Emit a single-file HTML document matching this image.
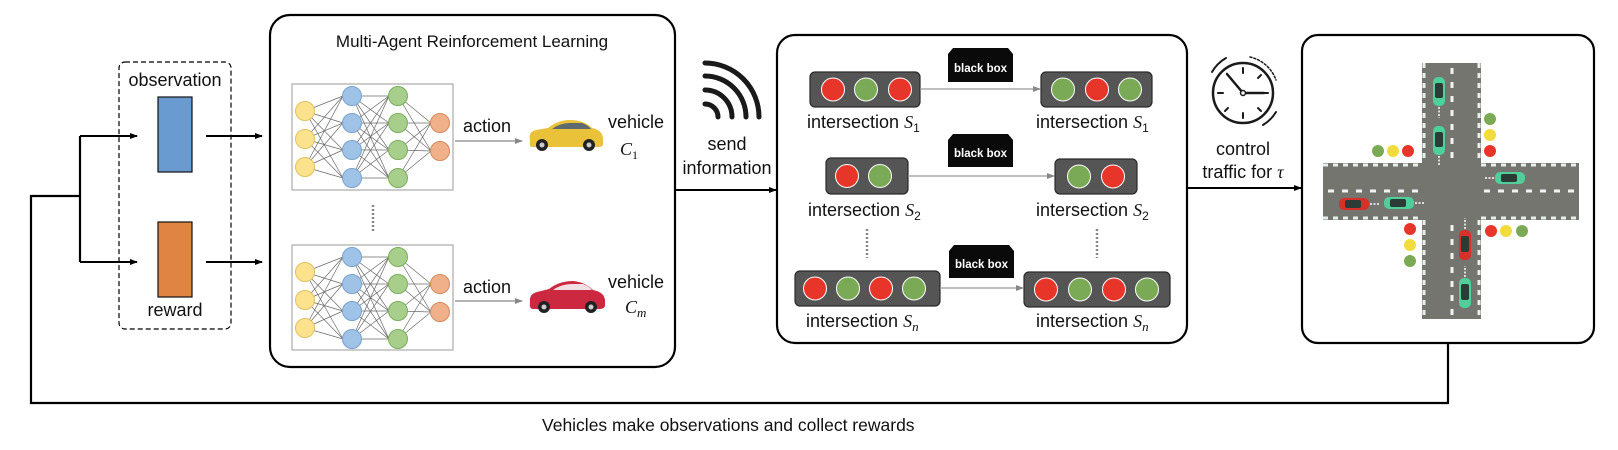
<!DOCTYPE html>
<html><head><meta charset="utf-8">
<style>
html,body{margin:0;padding:0;background:#fff;}
svg{display:block;}
text{font-family:"Liberation Sans",Arial,sans-serif;fill:#111;}
.m{font-family:"Liberation Serif",serif;font-style:italic;}
</style></head>
<body>
<svg id="s" width="1618" height="450" viewBox="0 0 1618 450" xmlns="http://www.w3.org/2000/svg">
<defs>
<marker id="ab" markerWidth="8" markerHeight="8" refX="7" refY="4" orient="auto" markerUnits="userSpaceOnUse"><path d="M0,1 L8,4 L0,7 Z" fill="#000"/></marker>
<marker id="ag" markerWidth="8" markerHeight="8" refX="7" refY="4" orient="auto" markerUnits="userSpaceOnUse"><path d="M0,1 L8,4 L0,7 Z" fill="#888"/></marker>
</defs>

<!-- feedback loop -->
<polyline points="1448,343 1448,403 31,403 31,196 80,196" fill="none" stroke="#000" stroke-width="2.2"/>
<line x1="80" y1="136" x2="80" y2="262" stroke="#000" stroke-width="2.2"/>
<line x1="80" y1="136" x2="137" y2="136" stroke="#000" stroke-width="2" marker-end="url(#ab)"/>
<line x1="80" y1="262" x2="137" y2="262" stroke="#000" stroke-width="2" marker-end="url(#ab)"/>
<text x="542" y="431" font-size="17.5">Vehicles make observations and collect rewards</text>

<!-- dashed box -->
<rect x="119" y="62" width="112" height="267" rx="6" fill="none" stroke="#000" stroke-width="1.2" stroke-dasharray="5,3"/>
<text x="175" y="86" font-size="18" text-anchor="middle">observation</text>
<rect x="158" y="97" width="34" height="75" fill="#6a9bd0" stroke="#111" stroke-width="1.2"/>
<rect x="158" y="222" width="34" height="75" fill="#e08444" stroke="#111" stroke-width="1.2"/>
<text x="175" y="316" font-size="18" text-anchor="middle">reward</text>
<line x1="206" y1="136" x2="262" y2="136" stroke="#000" stroke-width="2" marker-end="url(#ab)"/>
<line x1="206" y1="262" x2="262" y2="262" stroke="#000" stroke-width="2" marker-end="url(#ab)"/>

<!-- MARL box -->
<rect x="270" y="15" width="405" height="352" rx="20" fill="none" stroke="#000" stroke-width="2.2"/>
<text x="472" y="47" font-size="17" text-anchor="middle">Multi-Agent Reinforcement Learning</text>
<rect x="292" y="84" width="161" height="106" fill="#fff" stroke="#aaa" stroke-width="1.2"/>
<rect x="292" y="245" width="161" height="105" fill="#fff" stroke="#aaa" stroke-width="1.2"/>
<g id="nn1"></g><g id="nn2"></g>
<line x1="373" y1="205" x2="373" y2="233" stroke="#888" stroke-width="2.5" stroke-dasharray="2,2"/>

<text x="463" y="132" font-size="18">action</text>
<line x1="455" y1="141" x2="522" y2="141" stroke="#888" stroke-width="1.3" marker-end="url(#ag)"/>
<text x="463" y="293" font-size="18">action</text>
<line x1="455" y1="301" x2="522" y2="301" stroke="#888" stroke-width="1.3" marker-end="url(#ag)"/>

<!-- yellow car -->
<g transform="translate(528,118)">
<path d="M2,22 Q0,14 8,12 L20,10 Q30,2 42,2 Q56,2 64,10 Q74,12 75,20 L75,26 Q75,29 70,29 L4,29 Q1,29 2,22 Z" fill="#e9c23a"/>
<path d="M24,11 Q32,5 42,5 L54,5 Q60,7 63,11 Z" fill="#5d6a70"/>
<circle cx="14" cy="27" r="6" fill="#222"/><circle cx="14" cy="27" r="2.5" fill="#ccc"/>
<circle cx="61" cy="27" r="6" fill="#222"/><circle cx="61" cy="27" r="2.5" fill="#ccc"/>
</g>
<!-- red car -->
<g transform="translate(529,280)">
<path d="M1,22 Q0,14 8,12 L20,9 Q30,1 44,1 Q56,2 64,10 Q75,12 76,20 L76,26 Q75,29 70,29 L4,29 Q0,29 1,22 Z" fill="#cc2840"/>
<path d="M24,10 Q32,4 44,4 L54,4 Q60,6 63,10 Z" fill="#f0e0e4"/>
<circle cx="15" cy="27" r="6" fill="#222"/><circle cx="15" cy="27" r="2.5" fill="#ccc"/>
<circle cx="62" cy="27" r="6" fill="#222"/><circle cx="62" cy="27" r="2.5" fill="#ccc"/>
</g>
<text x="608" y="128" font-size="18">vehicle</text>
<text x="620" y="155" font-size="18" class="m">C<tspan font-size="12" dy="4" font-style="normal">1</tspan></text>
<text x="608" y="288" font-size="18">vehicle</text>
<text x="625" y="313" font-size="18" class="m">C<tspan font-size="13" dy="4">m</tspan></text>

<!-- send information -->
<line x1="675" y1="190" x2="776" y2="190" stroke="#000" stroke-width="2" marker-end="url(#ab)"/>
<g fill="none" stroke="#1a1a1a" stroke-width="5" stroke-linecap="round">
<path d="M705,104 A13,13 0 0 1 718,117"/>
<path d="M705,90 A27,27 0 0 1 732,117"/>
<path d="M705,76 A41,41 0 0 1 746,117"/>
<path d="M705,63 A54,54 0 0 1 759,117"/>
</g>
<text x="727" y="150" font-size="18" text-anchor="middle">send</text>
<text x="727" y="174" font-size="18" text-anchor="middle">information</text>

<!-- middle box -->
<rect x="777" y="35" width="410" height="308" rx="18" fill="none" stroke="#000" stroke-width="2.2"/>
<g id="tl"></g>
<!-- black boxes -->
<g font-size="11.5" font-weight="bold">
<path d="M948,82 L948,54 L953,48 L1008,48 L1013,54 L1013,82 Z" fill="#0a0a0a"/>
<text x="980.5" y="72" text-anchor="middle" style="fill:#fff">black box</text>
<path d="M948,167 L948,140 L953,134 L1008,134 L1013,140 L1013,167 Z" fill="#0a0a0a"/>
<text x="980.5" y="157" text-anchor="middle" style="fill:#fff">black box</text>
<path d="M949,278 L949,251 L954,245 L1009,245 L1014,251 L1014,278 Z" fill="#0a0a0a"/>
<text x="981.5" y="268" text-anchor="middle" style="fill:#fff">black box</text>
</g>
<line x1="920" y1="89" x2="1040" y2="89" stroke="#999" stroke-width="1.3" marker-end="url(#ag)"/>
<line x1="908" y1="176" x2="1054" y2="176" stroke="#999" stroke-width="1.3" marker-end="url(#ag)"/>
<line x1="940" y1="288" x2="1023" y2="288" stroke="#999" stroke-width="1.3" marker-end="url(#ag)"/>
<g font-size="18">
<text x="807" y="128">intersection <tspan class="m">S</tspan><tspan font-size="12" dy="4">1</tspan></text>
<text x="1036" y="128">intersection <tspan class="m">S</tspan><tspan font-size="12" dy="4">1</tspan></text>
<text x="808" y="216">intersection <tspan class="m">S</tspan><tspan font-size="12" dy="4">2</tspan></text>
<text x="1036" y="216">intersection <tspan class="m">S</tspan><tspan font-size="12" dy="4">2</tspan></text>
<text x="806" y="327">intersection <tspan class="m">S</tspan><tspan font-size="13" dy="4" class="m">n</tspan></text>
<text x="1036" y="327">intersection <tspan class="m">S</tspan><tspan font-size="13" dy="4" class="m">n</tspan></text>
</g>
<line x1="867" y1="229" x2="867" y2="258" stroke="#888" stroke-width="2.5" stroke-dasharray="2,2"/>
<line x1="1097" y1="229" x2="1097" y2="258" stroke="#888" stroke-width="2.5" stroke-dasharray="2,2"/>

<!-- control traffic -->
<line x1="1187" y1="188" x2="1301" y2="188" stroke="#000" stroke-width="2" marker-end="url(#ab)"/>
<g stroke="#1a1a1a" fill="none" stroke-linecap="round">
<circle cx="1243" cy="93" r="30" stroke-width="2.5"/>
<path d="M1226,58 A38,38 0 0 0 1212,72" stroke-width="2"/>
<path d="M1263,125 A38,38 0 0 0 1276,112" stroke-width="2"/>
<path d="M1250,57 A36,36 0 0 1 1276,80" stroke-width="1.5" stroke-dasharray="2,2"/>
<line x1="1243" y1="68" x2="1243" y2="73" stroke-width="2"/>
<line x1="1243" y1="113" x2="1243" y2="118" stroke-width="2"/>
<line x1="1218" y1="93" x2="1223" y2="93" stroke-width="2"/>
<line x1="1263" y1="93" x2="1268" y2="93" stroke-width="2"/>
<line x1="1225" y1="111" x2="1228" y2="108" stroke-width="2"/>
<line x1="1261" y1="111" x2="1258" y2="108" stroke-width="2"/>
<line x1="1261" y1="75" x2="1258" y2="78" stroke-width="2"/>
<line x1="1243" y1="93" x2="1227" y2="74" stroke-width="2.5"/>
<line x1="1243" y1="93" x2="1264" y2="93" stroke-width="2.5"/>
<circle cx="1243" cy="93" r="2.5" stroke-width="1.5" fill="#fff"/>
</g>
<text x="1243" y="155" font-size="18" text-anchor="middle">control</text>
<text x="1243" y="178" font-size="18" text-anchor="middle">traffic for <tspan class="m">τ</tspan></text>

<!-- last box -->
<rect x="1302" y="35" width="292" height="308" rx="16" fill="none" stroke="#000" stroke-width="2.2"/>
<g>
<rect x="1323" y="163" width="256" height="57" fill="#75756f"/>
<rect x="1422" y="63" width="59" height="256" fill="#75756f"/>
<g stroke="#e8f0ea" stroke-width="3" stroke-dasharray="5,5">
<line x1="1323" y1="165" x2="1422" y2="165"/><line x1="1481" y1="165" x2="1579" y2="165"/>
<line x1="1323" y1="218" x2="1422" y2="218"/><line x1="1481" y1="218" x2="1579" y2="218"/>
<line x1="1424" y1="63" x2="1424" y2="163"/><line x1="1479" y1="63" x2="1479" y2="163"/>
<line x1="1424" y1="220" x2="1424" y2="319"/><line x1="1479" y1="220" x2="1479" y2="319"/>
</g>
<g stroke="#f2f2f2" stroke-width="3" stroke-dasharray="6,8">
<line x1="1452" y1="68" x2="1452" y2="160"/><line x1="1452" y1="225" x2="1452" y2="318"/>
<line x1="1328" y1="191" x2="1420" y2="191"/><line x1="1484" y1="191" x2="1578" y2="191"/>
</g>
<!-- cars -->
<g>
<rect x="1433" y="77" width="12" height="29" rx="5" fill="#4fcf9a"/><rect x="1435" y="83" width="8" height="15" rx="2" fill="#2b3b35"/>
<rect x="1433" y="126" width="12" height="29" rx="5" fill="#4fcf9a"/><rect x="1435" y="132" width="8" height="15" rx="2" fill="#2b3b35"/>
<rect x="1495" y="172" width="30" height="12" rx="5" fill="#4fcf9a"/><rect x="1501" y="174" width="16" height="8" rx="2" fill="#2b3b35"/>
<rect x="1339" y="198" width="30" height="12" rx="5" fill="#d8302a"/><rect x="1345" y="200" width="16" height="8" rx="2" fill="#2b3b35"/>
<rect x="1384" y="197" width="30" height="12" rx="5" fill="#4fcf9a"/><rect x="1390" y="199" width="16" height="8" rx="2" fill="#2b3b35"/>
<rect x="1459" y="230" width="12" height="30" rx="5" fill="#d8302a"/><rect x="1461" y="236" width="8" height="16" rx="2" fill="#2b3b35"/>
<rect x="1459" y="278" width="12" height="30" rx="5" fill="#4fcf9a"/><rect x="1461" y="284" width="8" height="16" rx="2" fill="#2b3b35"/>
</g>
<g stroke="#fff" stroke-width="1.5" fill="none" stroke-dasharray="2,1.5">
<line x1="1439" y1="107" x2="1439" y2="118"/><line x1="1439" y1="156" x2="1439" y2="166"/>
<line x1="1494" y1="178" x2="1484" y2="178"/><line x1="1370" y1="204" x2="1380" y2="204"/>
<line x1="1415" y1="203" x2="1425" y2="203"/><line x1="1465" y1="229" x2="1465" y2="218"/>
<line x1="1465" y1="277" x2="1465" y2="266"/>
</g>
</g>
<g id="sig"></g>
</svg>
<script>
var NS="http://www.w3.org/2000/svg";
function el(p,t,a){var e=document.createElementNS(NS,t);for(var k in a)e.setAttribute(k,a[k]);p.appendChild(e);return e;}
function nn(id,dy){
 var g=document.getElementById(id);
 var L=[{x:305,ys:[111,139,167],f:"#fde28e",s:"#e2c160"},
        {x:352,ys:[96,123,150,178],f:"#9fc3e7",s:"#78a2cf"},
        {x:398,ys:[96,123,150,178],f:"#a7cf8b",s:"#7cae5e"},
        {x:440,ys:[123,151],f:"#efb08a",s:"#d38a5e"}];
 for(var i=0;i<3;i++)for(var a=0;a<L[i].ys.length;a++)for(var b=0;b<L[i+1].ys.length;b++)
  el(g,"line",{x1:L[i].x,y1:L[i].ys[a]+dy,x2:L[i+1].x-9,y2:L[i+1].ys[b]+dy,stroke:"#6a6a6a","stroke-width":0.7});
 L.forEach(function(l){l.ys.forEach(function(y){el(g,"circle",{cx:l.x,cy:y+dy,r:9.5,fill:l.f,stroke:l.s,"stroke-width":1});});});
}
nn("nn1",0);nn("nn2",161);
var R="#e8352a",G="#7aaa55",Y="#f1dc3c";
var tl=document.getElementById("tl");
function light(x,y,w,h,xs,cs){
 el(tl,"rect",{x:x,y:y,width:w,height:h,rx:5,fill:"#555",stroke:"#2a2a2a","stroke-width":1.2});
 xs.forEach(function(cx,i){el(tl,"circle",{cx:cx,cy:y+h/2,r:11.5,fill:cs[i],stroke:"#fff","stroke-width":1});});
}
light(810,72,110,35,[833,866,900],[R,G,R]);
light(1041,72,111,35,[1063,1097,1130],[G,R,G]);
light(826,158,82,36,[847,880],[R,G]);
light(1055,159,82,35,[1079,1113],[G,R]);
light(795,271,145,35,[815,848,881,914],[R,G,R,G]);
light(1024,272,146,35,[1046,1080,1114,1147],[R,G,R,G]);
var sg=document.getElementById("sig");
function dot(x,y,c){el(sg,"circle",{cx:x,cy:y,r:6,fill:c});}
dot(1378,151,G);dot(1393,151,Y);dot(1408,151,R);
dot(1490,119,G);dot(1490,135,Y);dot(1490,151,R);
dot(1410,229,R);dot(1410,245,Y);dot(1410,261,G);
dot(1491,231,R);dot(1506,231,Y);dot(1522,231,G);
</script>
</body></html>
